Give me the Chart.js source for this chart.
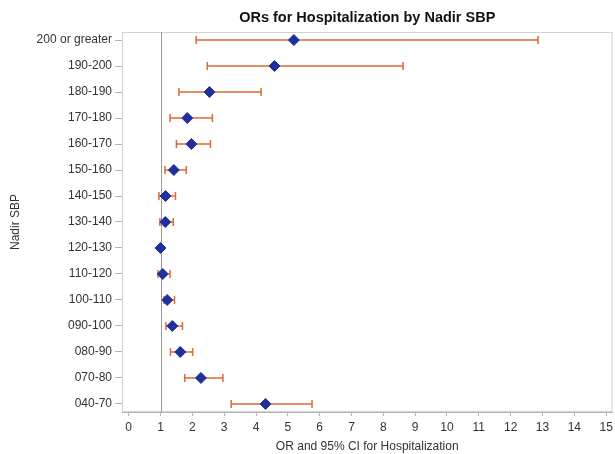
<!DOCTYPE html>
<html lang="en">
<head>
    <meta charset="UTF-8">
    <title>ORs for Hospitalization by Nadir SBP</title>
    <script src="https://cdn.jsdelivr.net/npm/chart.js"></script>
    <style>
        html, body { margin: 0; padding: 0; background: #fff; overflow: hidden; }
        /* a little wider than the window so the "15" label can hang past the frame */
        #wrap { width: 619px; height: 454px; }
    </style>
</head>
<body>
    <div id="wrap"><canvas id="orChart"></canvas></div>

    <script>
        // categories, top to bottom
        const groups = ['200 or greater', '190-200', '180-190', '170-180', '160-170', '150-160',
            '140-150', '130-140', '120-130', '110-120', '100-110', '090-100', '080-90', '070-80', '040-70'];
        const oddsRatio = [5.19, 4.58, 2.54, 1.84, 1.97, 1.42, 1.16, 1.15, 1.00, 1.07, 1.21, 1.37, 1.62, 2.27, 4.30];
        const ciLow    = [2.12, 2.47, 1.58, 1.30, 1.50, 1.14, 0.95, 0.98, 1.00, 0.92, 1.11, 1.17, 1.31, 1.76, 3.22];
        const ciHigh   = [12.86, 8.62, 4.16, 2.63, 2.57, 1.81, 1.47, 1.40, 1.00, 1.30, 1.44, 1.69, 2.01, 2.96, 5.76];
        const xTicks = [0, 1, 2, 3, 4, 5, 6, 7, 8, 9, 10, 11, 12, 13, 14, 15];
        const refLine = 1;
        const chartTitle = 'ORs for Hospitalization by Nadir SBP';

        const points = oddsRatio.map((v, i) => ({ x: v, y: i }));
        const FONT = 'Liberation Sans, Arial, sans-serif';

        // title over the plot area, whiskers, reference line and frame
        const extras = {
            id: 'extras',
            beforeDatasetsDraw(chart) {
                const { ctx, chartArea: a, scales: { x, y } } = chart;
                ctx.save();
                ctx.fillStyle = '#111';
                ctx.font = 'bold 14.5px ' + FONT;
                ctx.textAlign = 'center';
                ctx.textBaseline = 'middle';
                ctx.fillText(chartTitle, (a.left + a.right) / 2, 18);

                ctx.strokeStyle = '#d2d2d2';
                ctx.lineWidth = 1;
                ctx.strokeRect(a.left + 0.5, a.top + 0.5, a.right - a.left - 1, a.bottom - a.top - 1);

                const rx = Math.round(x.getPixelForValue(refLine)) + 0.5;
                ctx.strokeStyle = '#9a9a9a';
                ctx.beginPath();
                ctx.moveTo(rx, a.top);
                ctx.lineTo(rx, a.bottom);
                ctx.stroke();

                ctx.strokeStyle = '#dd6a35';
                ctx.lineWidth = 1.5;
                groups.forEach((g, i) => {
                    if (ciLow[i] === ciHigh[i]) return;
                    const py = y.getPixelForValue(i);
                    const x1 = x.getPixelForValue(ciLow[i]);
                    const x2 = x.getPixelForValue(ciHigh[i]);
                    ctx.beginPath();
                    ctx.moveTo(x1, py); ctx.lineTo(x2, py);
                    ctx.moveTo(x1, py - 4); ctx.lineTo(x1, py + 4);
                    ctx.moveTo(x2, py - 4); ctx.lineTo(x2, py + 4);
                    ctx.stroke();
                });
                ctx.restore();
            }
        };

        new Chart(document.getElementById('orChart'), {
            type: 'scatter',
            data: {
                datasets: [{
                    label: 'OR',
                    data: points,
                    pointStyle: 'rectRot',
                    pointRadius: 5.5,
                    backgroundColor: '#1f2f9c',
                    borderColor: '#1f2f9c',
                    borderWidth: 1
                }]
            },
            options: {
                responsive: true,
                maintainAspectRatio: false,
                animation: false,
                layout: { padding: { left: 0, right: 3, top: 32, bottom: 0 } },
                plugins: {
                    legend: { display: false },
                    tooltip: { enabled: false },
                    title: { display: false }
                },
                scales: {
                    x: {
                        type: 'linear',
                        min: -0.21,
                        max: 15.2,
                        afterBuildTicks: s => { s.ticks = xTicks.map(v => ({ value: v })); },
                        afterFit: s => { s.height = 42; },
                        grid: { drawOnChartArea: false, tickLength: 4, color: '#b5b5b5' },
                        border: { color: '#b5b5b5' },
                        ticks: {
                            color: '#333',
                            padding: 4,
                            maxRotation: 0,
                            font: { family: FONT, size: 12 }
                        },
                        title: {
                            display: true,
                            text: 'OR and 95% CI for Hospitalization',
                            color: '#333',
                            font: { family: FONT, size: 12 },
                            padding: { top: 0, bottom: 0 }
                        }
                    },
                    y: {
                        type: 'linear',
                        reverse: true,
                        min: -0.31,
                        max: 14.31,
                        afterBuildTicks: s => { s.ticks = groups.map((g, i) => ({ value: i })); },
                        afterFit: s => { s.width = 122; },
                        grid: { drawOnChartArea: false, tickLength: 7, color: '#b5b5b5' },
                        border: { color: '#b5b5b5' },
                        ticks: {
                            color: '#333',
                            padding: 3,
                            font: { family: FONT, size: 12 },
                            callback: v => groups[v]
                        },
                        title: {
                            display: true,
                            text: 'Nadir SBP',
                            color: '#333',
                            font: { family: FONT, size: 12 },
                            padding: { top: 8, bottom: 4 }
                        }
                    }
                }
            },
            plugins: [extras]
        });
    </script>
</body>
</html>
